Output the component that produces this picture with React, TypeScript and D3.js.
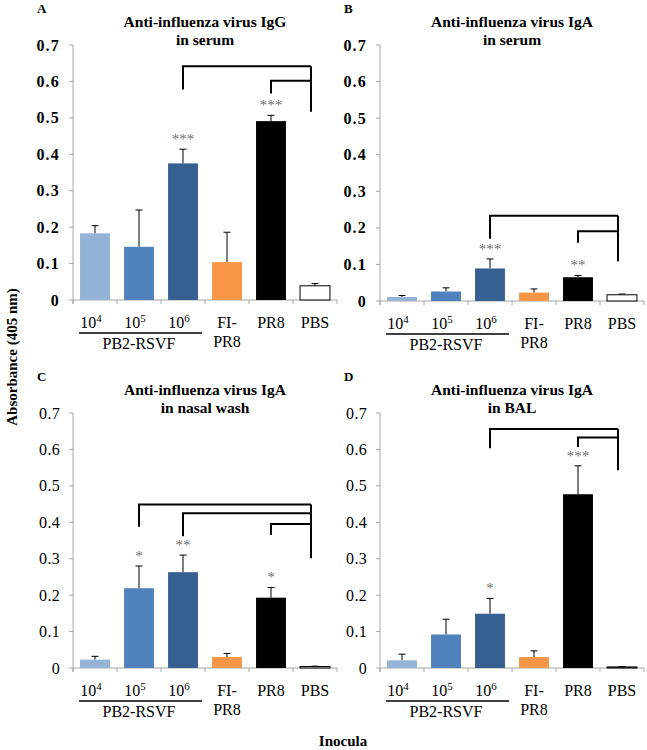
import React from "react";
import * as d3 from "d3";

// bars, in order: 10^4, 10^5, 10^6 PB2-RSVF, FI-PR8, PR8, PBS
const groups = ["10^4", "10^5", "10^6", "FI-PR8", "PR8", "PBS"];
const barColors = ["#95b3d7", "#4f81bd", "#376092", "#f79646", "#000000", "#ffffff"];
const yTicks = [0, 0.1, 0.2, 0.3, 0.4, 0.5, 0.6, 0.7];

const iggSerum = [0.183, 0.146, 0.375, 0.104, 0.491, 0.039];
const iggSerumErr = [0.021, 0.101, 0.039, 0.082, 0.016, 0.006];
const igaSerum = [0.011, 0.026, 0.089, 0.023, 0.065, 0.017];
const igaSerumErr = [0.004, 0.01, 0.026, 0.01, 0.005, 0.002];
const igaNasal = [0.023, 0.219, 0.263, 0.03, 0.193, 0.004];
const igaNasalErr = [0.009, 0.061, 0.047, 0.01, 0.028, 0.001];
const igaBal = [0.021, 0.092, 0.149, 0.03, 0.477, 0.003];
const igaBalErr = [0.017, 0.042, 0.042, 0.017, 0.078, 0.001];

const starsA = ["", "", "***", "", "***", ""];
const starsB = ["", "", "***", "", "**", ""];
const starsC = ["", "*", "**", "", "*", ""];
const starsD = ["", "", "*", "", "***", ""];

// significance brackets, all closing on PBS: start bar, top, left leg end (absorbance)
const bracketsA = [{ from: 2, top: 0.642, leg: 0.578 }, { from: 4, top: 0.602, leg: 0.567 }];
const bracketsB = [{ from: 2, top: 0.233, leg: 0.17 }, { from: 4, top: 0.191, leg: 0.159 }];
const bracketsC = [
  { from: 1, top: 0.449, leg: 0.388 },
  { from: 2, top: 0.425, leg: 0.362 },
  { from: 4, top: 0.395, leg: 0.365 },
];
const bracketsD = [{ from: 2, top: 0.656, leg: 0.603 }, { from: 4, top: 0.633, leg: 0.607 }];
const bracketEnd = [0.517, 0.109, 0.301, 0.543];

const serif = "'Liberation Serif', 'Times New Roman', serif";

type Bracket = { from: number; top: number; leg: number };

const Panel = ({ letter, title, x0, y0, y7, values, errors, stars, brackets, rightEnd, boldTicks }: {
  letter: string; title: string[]; x0: number; y0: number; y7: number;
  values: number[]; errors: number[]; stars: string[]; brackets: Bracket[]; rightEnd: number; boldTicks: boolean;
}) => {
  const x = d3.scaleBand<string>().domain(groups).range([x0, x0 + 264]).paddingInner(0.32).paddingOuter(0.16);
  const y = d3.scaleLinear().domain([0, 0.7]).range([y0, y7]);
  const bw = x.bandwidth();
  const cx = (i: number) => (x(groups[i]) as number) + bw / 2;
  const axisColor = "#a6a6a6";
  const rightX = cx(5) - 4;
  const fmt = (d: number) => (d === 0 ? "0" : d3.format(".1f")(d));

  return (
    <g fontFamily={serif}>
      <text x={x0 - 36} y={y7 - 32} fontSize={13} fontWeight="bold">{letter}</text>
      <text x={x0 + 132} y={y7 - 18} fontSize={15.5} fontWeight="bold" textAnchor="middle">{title[0]}</text>
      <text x={x0 + 132} y={y7} fontSize={15.5} fontWeight="bold" textAnchor="middle">{title[1]}</text>

      {/* y axis */}
      <line x1={x0} x2={x0} y1={y(0.7)} y2={y0 + 4} stroke={axisColor} />
      {yTicks.map((t) => (
        <g key={t}>
          <line x1={x0 - 4} x2={x0} y1={y(t)} y2={y(t)} stroke={axisColor} />
          <text x={x0 - 13} y={y(t)} dy="0.35em" textAnchor="end" fontSize={16}
            fontWeight={boldTicks ? "bold" : "normal"} letterSpacing={boldTicks ? 1.2 : 0.3}>{fmt(t)}</text>
        </g>
      ))}

      {/* x axis */}
      <line x1={x0} x2={x0 + 264} y1={y0} y2={y0} stroke={axisColor} />
      {d3.range(7).map((i) => (
        <line key={i} x1={x0 + x.step() * i} x2={x0 + x.step() * i} y1={y0} y2={y0 + 4} stroke={axisColor} />
      ))}

      {/* bars and error bars */}
      {values.map((v, i) => (
        <g key={i}>
          <line x1={cx(i)} x2={cx(i)} y1={y(v)} y2={y(v + errors[i])} stroke="#000" strokeWidth={1} />
          <line x1={cx(i) - 3.5} x2={cx(i) + 3.5} y1={y(v + errors[i])} y2={y(v + errors[i])} stroke="#000" strokeWidth={1} />
          <rect x={x(groups[i])} y={y(v)} width={bw} height={y0 - y(v)} fill={barColors[i]}
            stroke={i === 5 ? "#000" : "none"} strokeWidth={1} />
          {stars[i] && (
            <text x={cx(i)} y={y(v + errors[i]) - 12} dy="0.45em" textAnchor="middle" fontSize={15} fill="#707070">{stars[i]}</text>
          )}
        </g>
      ))}

      {/* significance brackets */}
      <line x1={rightX} x2={rightX} y1={y(d3.max(brackets, (b) => b.top) as number)} y2={y(rightEnd)} stroke="#000" strokeWidth={2} />
      {brackets.map((b, i) => (
        <path key={i} d={`M${cx(b.from)},${y(b.leg)}V${y(b.top)}H${rightX}`} fill="none" stroke="#000" strokeWidth={2} />
      ))}

      {/* category labels */}
      {[0, 1, 2].map((i) => (
        <text key={i} x={cx(i) - 4} y={y0 + 28} fontSize={16} textAnchor="middle">
          10<tspan fontSize={11} dy={-6}>{4 + i}</tspan>
        </text>
      ))}
      <text x={cx(3)} y={y0 + 28} fontSize={16} textAnchor="middle">FI-</text>
      <text x={cx(3)} y={y0 + 47} fontSize={16} textAnchor="middle">PR8</text>
      <text x={cx(4)} y={y0 + 28} fontSize={16} textAnchor="middle">PR8</text>
      <text x={cx(5)} y={y0 + 28} fontSize={16} textAnchor="middle">PBS</text>
      <line x1={(x(groups[0]) as number) - 1} x2={(x(groups[2]) as number) + bw + 4} y1={y0 + 33} y2={y0 + 33} stroke="#000" strokeWidth={1.5} />
      <text x={cx(1)} y={y0 + 49} fontSize={16} textAnchor="middle">PB2-RSVF</text>
    </g>
  );
};

export default function App() {
  return (
    <svg width={647} height={750} style={{ position: "absolute", left: 0, top: 0, background: "#fff" }}>
      <Panel letter="A" title={["Anti-influenza virus IgG", "in serum"]} x0={73} y0={300} y7={45}
        values={iggSerum} errors={iggSerumErr} stars={starsA} brackets={bracketsA} rightEnd={bracketEnd[0]} boldTicks />
      <Panel letter="B" title={["Anti-influenza virus IgA", "in serum"]} x0={380} y0={301} y7={45}
        values={igaSerum} errors={igaSerumErr} stars={starsB} brackets={bracketsB} rightEnd={bracketEnd[1]} boldTicks />
      <Panel letter="C" title={["Anti-influenza virus IgA", "in nasal wash"]} x0={73} y0={668} y7={413}
        values={igaNasal} errors={igaNasalErr} stars={starsC} brackets={bracketsC} rightEnd={bracketEnd[2]} boldTicks={false} />
      <Panel letter="D" title={["Anti-influenza virus IgA", "in BAL"]} x0={380} y0={668} y7={413}
        values={igaBal} errors={igaBalErr} stars={starsD} brackets={bracketsD} rightEnd={bracketEnd[3]} boldTicks={false} />
      <text transform="translate(17,357) rotate(-90)" textAnchor="middle" fontFamily={serif} fontSize={15} fontWeight="bold">
        Absorbance (405 nm)
      </text>
      <text x={343} y={746} textAnchor="middle" fontFamily={serif} fontSize={15} fontWeight="bold">Inocula</text>
    </svg>
  );
}
